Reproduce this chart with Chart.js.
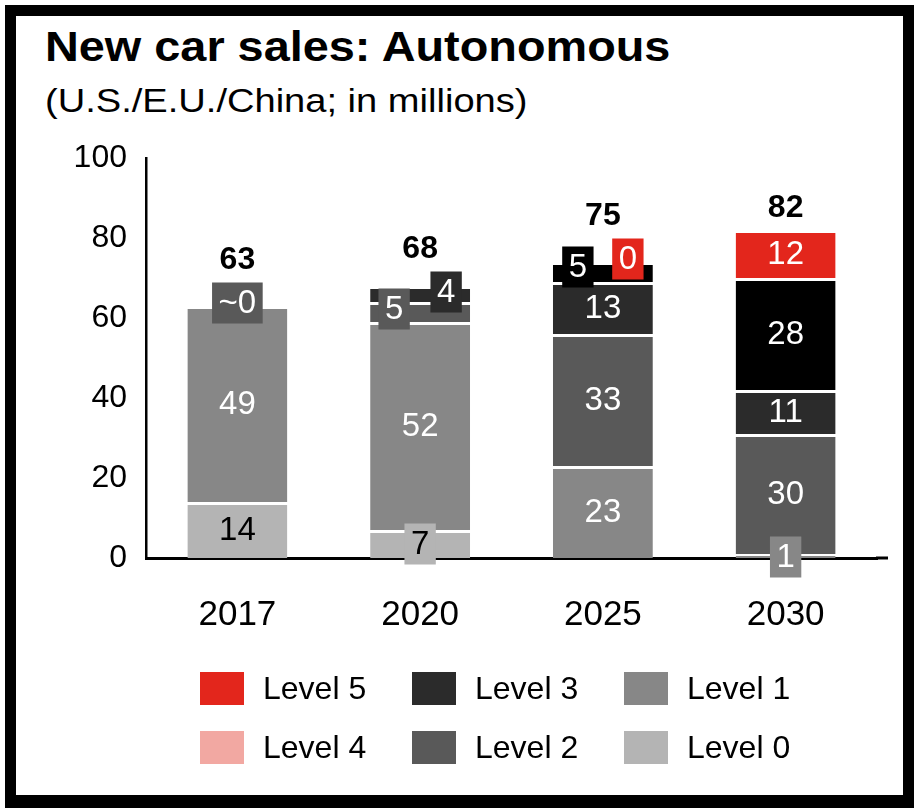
<!DOCTYPE html>
<html>
<head>
<meta charset="utf-8">
<title>New car sales: Autonomous</title>
<script src="https://cdn.jsdelivr.net/npm/chart.js@4.4.1/dist/chart.umd.min.js"></script>
<style>
  html, body { margin: 0; padding: 0; background: #fff; }
  body { width: 914px; height: 808px; position: relative; overflow: hidden;
         font-family: 'Liberation Sans', Arial, sans-serif; color: #000; }
  .frame { position: absolute; left: 5px; top: 5px; width: 909px; height: 803px;
           box-sizing: border-box; border: solid #000; border-width: 11px 11px 13px 11px; }
  .title { position: absolute; left: 45px; top: 26px; font-size: 42px; font-weight: bold;
           line-height: 1; white-space: nowrap; transform: scaleX(1.115); transform-origin: left top; }
  .subtitle { position: absolute; left: 45px; top: 83px; font-size: 34px; line-height: 1;
              white-space: nowrap; transform: scaleX(1.12); transform-origin: left top; }
  #chart { position: absolute; left: 0; top: 0; }
  .legend { position: absolute; left: 200px; top: 659px; display: grid;
            grid-template-columns: 212px 212px 212px; grid-template-rows: 59px 59px;
            grid-auto-flow: column; }
  .legend div { display: flex; align-items: center; font-size: 32px; white-space: nowrap; }
  .legend span.sw { display: inline-block; width: 44px; height: 33px; margin-right: 19px; }
</style>
</head>
<body>
<div class="frame"></div>
<div class="title">New car sales: Autonomous</div>
<div class="subtitle">(U.S./E.U./China; in millions)</div>
<canvas id="chart" width="914" height="808"></canvas>
<div class="legend" id="legend"></div>
<script>
// sales by autonomy level, millions of cars
const years = ['2017', '2020', '2025', '2030'];
const level0 = [14, 7, 0, 0];
const level1 = [49, 52, 23, 1];
const level2 = [0, 5, 33, 30];
const level3 = [0, 4, 13, 11];
const level4 = [0, 0, 5, 28];
const level5 = [0, 0, 0, 12];
const totals = [63, 68, 75, 82];
const yTicks = [0, 20, 40, 60, 80, 100];

const seriesNames = ['Level 0', 'Level 1', 'Level 2', 'Level 3', 'Level 4', 'Level 5'];
const seriesData = [level0, level1, level2, level3, level4, level5];
const barColors = ['#b4b4b4', '#878787', '#595959', '#2b2b2b', '#000000', '#e3261c'];
const legendColors = ['#b4b4b4', '#878787', '#595959', '#2b2b2b', '#f2a8a2', '#e3261c'];
const textColors = ['#000', '#fff', '#fff', '#fff', '#fff', '#fff'];

// small segments get a tag box instead of an inside label
const tags = [
  { s: 2, i: 0, dx: 0, dy: -3, text: '~0' },
  { s: 0, i: 1, dx: 0, dy: 0 },
  { s: 2, i: 1, dx: -26, dy: -3 },
  { s: 3, i: 1, dx: 26, dy: -2 },
  { s: 4, i: 2, dx: -25, dy: -5 },
  { s: 5, i: 2, dx: 25, dy: -3 },
  { s: 1, i: 3, dx: 0, dy: 1 }
];

const FONT = "'Liberation Sans', Arial, sans-serif";
Chart.defaults.font.family = FONT;
Chart.defaults.color = '#000';

const barLabels = {
  id: 'barLabels',
  afterDatasetsDraw(chart) {
    const ctx = chart.ctx;
    const tops = years.map(() => Infinity);
    ctx.save();
    ctx.textAlign = 'center';
    ctx.textBaseline = 'middle';
    ctx.font = '33px ' + FONT;
    chart.data.datasets.forEach((ds, s) => {
      chart.getDatasetMeta(s).data.forEach((bar, i) => {
        const v = ds.data[i];
        if (v > 0) tops[i] = Math.min(tops[i], bar.y);
        if (v <= 0 || tags.some(t => t.s === s && t.i === i)) return;
        ctx.fillStyle = textColors[s];
        ctx.fillText(String(v), bar.x, (bar.y + bar.base) / 2 + 1);
      });
    });
    tags.forEach(t => {
      const bar = chart.getDatasetMeta(t.s).data[t.i];
      const text = t.text || String(chart.data.datasets[t.s].data[t.i]);
      const w = ctx.measureText(text).width + 13, h = 41;
      const cx = bar.x + t.dx, cy = (bar.y + bar.base) / 2 + t.dy;
      ctx.fillStyle = barColors[t.s];
      ctx.fillRect(cx - w / 2, cy - h / 2, w, h);
      ctx.fillStyle = textColors[t.s];
      ctx.fillText(text, cx, cy + 1);
      tops[t.i] = Math.min(tops[t.i], cy - h / 2);
    });
    ctx.font = 'bold 32px ' + FONT;
    ctx.fillStyle = '#000';
    totals.forEach((v, i) => {
      const x = chart.getDatasetMeta(0).data[i].x;
      ctx.fillText(String(v), x, tops[i] - 22);
    });
    ctx.restore();
  },
  afterDraw(chart) {
    // the baseline runs a little past the last bar
    const { ctx, chartArea, scales } = chart;
    const y0 = scales.y.getPixelForValue(0);
    ctx.save();
    ctx.strokeStyle = '#000';
    ctx.lineWidth = 3;
    ctx.beginPath();
    ctx.moveTo(chartArea.right - 1, y0);
    ctx.lineTo(chartArea.right + 11, y0);
    ctx.stroke();
    ctx.restore();
  }
};

new Chart(document.getElementById('chart'), {
  type: 'bar',
  data: {
    labels: years,
    datasets: seriesNames.map((name, k) => ({
      label: name,
      data: seriesData[k],
      backgroundColor: barColors[k],
      borderColor: '#ffffff',
      borderWidth: { top: 3, bottom: 0, left: 0, right: 0 },
      borderSkipped: false,
      barPercentage: 1,
      categoryPercentage: 0.547
    }))
  },
  options: {
    responsive: false,
    animation: false,
    devicePixelRatio: 1,
    layout: { padding: { top: 158, right: 37, bottom: 150, left: 0 } },
    plugins: { legend: { display: false }, tooltip: { enabled: false } },
    scales: {
      x: {
        stacked: true,
        grid: { display: false, drawTicks: false },
        border: { color: '#000', width: 3 },
        ticks: { color: '#000', font: { size: 35 }, padding: 36 },
        afterFit(scale) { scale.height = 100; }
      },
      y: {
        stacked: true,
        min: 0,
        max: 100,
        grid: { display: false, drawTicks: false },
        border: { color: '#000', width: 2.5 },
        ticks: { color: '#000', font: { size: 32 }, padding: 19 },
        afterBuildTicks(scale) { scale.ticks = yTicks.map(v => ({ value: v })); },
        afterFit(scale) { scale.width = 146; }
      }
    }
  },
  plugins: [barLabels]
});

// legend: Level 5 down to Level 0, filled column by column
const legend = document.getElementById('legend');
for (let k = seriesNames.length - 1; k >= 0; k--) {
  const item = document.createElement('div');
  const sw = document.createElement('span');
  sw.className = 'sw';
  sw.style.background = legendColors[k];
  item.appendChild(sw);
  item.appendChild(document.createTextNode(seriesNames[k]));
  legend.appendChild(item);
}
</script>
</body>
</html>
